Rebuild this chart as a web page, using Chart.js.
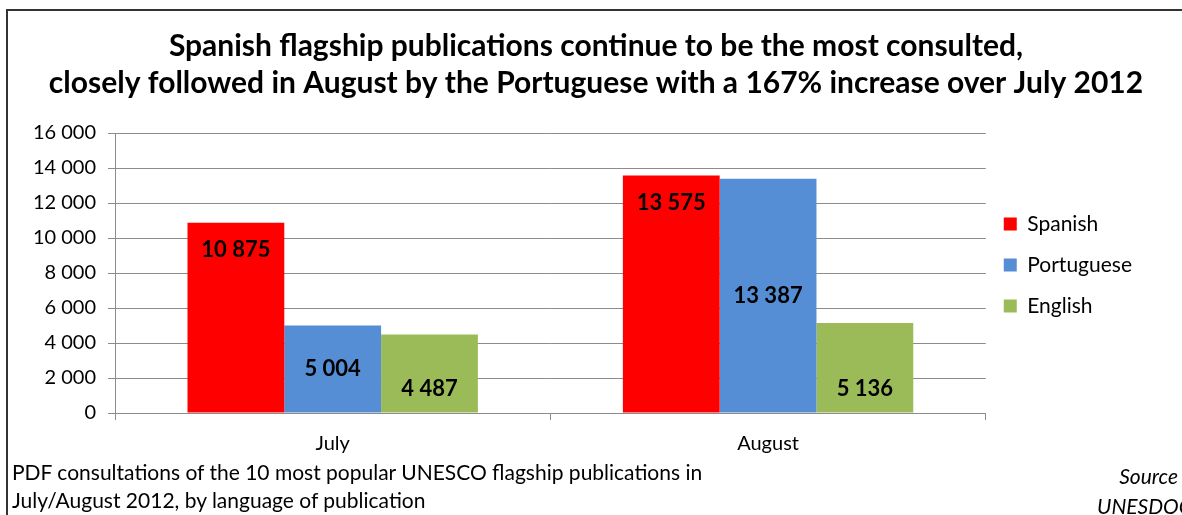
<!DOCTYPE html>
<html lang="en">
<head>
    <meta charset="UTF-8">
    <title>UNESCO flagship publications</title>
    <script src="https://cdn.jsdelivr.net/npm/chart.js"></script>
    <style>
        html, body { margin: 0; padding: 0; background: #fff; overflow: hidden; }
        .pagina { position: relative; width: 1182px; height: 515px; overflow: hidden; font-family: Lato, sans-serif; }
        .moldura { position: absolute; left: 6px; top: 9px; width: 1200px; height: 520px; border-top: 2px solid #333; border-left: 2px solid #333; }
        canvas { position: absolute; left: 0; top: 0; }
        .rodape { position: absolute; left: 12px; top: 458px; font-size: 21px; line-height: 27.5px; color: #000; white-space: nowrap; }
        .fonte { position: absolute; font-size: 21px; font-style: italic; color: #000; white-space: nowrap; line-height: 24px; }
    </style>
</head>
<body>
    <div class="pagina">
        <canvas id="myChart" width="1182" height="515"></canvas>
        <div class="moldura"></div>
        <div class="rodape">PDF consultations of the 10 most popular UNESCO flagship publications in<br>July/August 2012, by language of publication</div>
        <div class="fonte" style="right: 4px; top: 464px;">Source</div>
        <div class="fonte" style="left: 1097px; top: 494px;">UNESDOC</div>
    </div>
<script>
    // dados
    const meses = ['July', 'August']
    const espanhol = [10875, 13575]
    const portugues = [5004, 13387]
    const ingles = [4487, 5136]
    const ticksY = [0, 2000, 4000, 6000, 8000, 10000, 12000, 14000, 16000]

    // onde o rotulo fica dentro de cada barra (por serie)
    const ancoraRotulo = ['end', 'center', 'start']

    function formatarNumero(v){
        return String(v).replace(/\B(?=(\d{3})+(?!\d))/g, ' ')
    }

    const rotulosBarras = {
        id: 'rotulosBarras',
        afterDatasetsDraw(chart){
            const ctx = chart.ctx
            ctx.save()
            ctx.font = 'bold 22px Lato'
            ctx.fillStyle = '#000'
            ctx.textAlign = 'center'
            ctx.textBaseline = 'middle'
            chart.data.datasets.forEach((ds, i) => {
                chart.getDatasetMeta(i).data.forEach((barra, j) => {
                    var y
                    if (ancoraRotulo[i] == 'end') y = barra.y + 27
                    else if (ancoraRotulo[i] == 'center') y = (barra.y + barra.base) / 2
                    else y = barra.base - 24
                    ctx.fillText(formatarNumero(ds.data[j]), barra.x, y)
                })
            })
            ctx.restore()
        }
    }

    // legenda um pouco acima do centro e titulo centrado na pagina toda
    const ajusteLayout = {
        id: 'ajusteLayout',
        afterLayout(chart){
            const leg = chart.legend
            if (leg) {
                leg.top = chart.chartArea.top - 8
                leg.bottom = chart.chartArea.bottom - 8
                leg.height = leg.bottom - leg.top
                leg.left -= 2
                leg.right -= 2
            }
            const tit = chart.titleBlock
            if (tit) {
                tit.left = 10
                tit.right = chart.width
                tit.width = tit.right - tit.left
            }
        }
    }

    function desenhar(){
        const ctx = document.getElementById('myChart')
        new Chart(ctx, {
            type: 'bar',
            data: {
                labels: meses,
                datasets: [
                    { label: 'Spanish', data: espanhol, backgroundColor: '#ff0000' },
                    { label: 'Portuguese', data: portugues, backgroundColor: '#558ed5' },
                    { label: 'English', data: ingles, backgroundColor: '#9bbb59' }
                ]
            },
            options: {
                responsive: false,
                animation: false,
                devicePixelRatio: 1,
                categoryPercentage: 0.667,
                barPercentage: 1.0,
                layout: { padding: { left: 0, right: 38, top: 0, bottom: 47 } },
                plugins: {
                    title: {
                        display: true,
                        text: ['Spanish flagship publications continue to be the most consulted,',
                               'closely followed in August by the Portuguese with a 167% increase over July 2012'],
                        color: '#000',
                        font: { family: 'Lato', size: 30, weight: 'bold', lineHeight: '37px' },
                        padding: { top: 28, bottom: 31 }
                    },
                    legend: {
                        position: 'right',
                        labels: {
                            color: '#000',
                            font: { family: 'Lato', size: 21 },
                            boxWidth: 13,
                            boxHeight: 13,
                            padding: 20
                        }
                    },
                    tooltip: { enabled: false }
                },
                scales: {
                    x: {
                        grid: { display: true, drawOnChartArea: false, drawTicks: true, tickLength: 7, color: '#8c8c8c', offset: true },
                        border: { display: true, color: '#8c8c8c' },
                        ticks: { color: '#000', font: { family: 'Lato', size: 20 }, padding: 12 }
                    },
                    y: {
                        min: 0,
                        max: 16000,
                        afterBuildTicks(scale){
                            scale.ticks = ticksY.map(v => ({ value: v }))
                        },
                        afterFit(scale){ scale.width = 115 },
                        grid: { color: '#8c8c8c', tickLength: 7 },
                        border: { display: true, color: '#8c8c8c' },
                        ticks: {
                            color: '#000',
                            font: { family: 'Lato', size: 20 },
                            padding: 12,
                            callback: (v) => formatarNumero(v)
                        }
                    }
                }
            },
            plugins: [rotulosBarras, ajusteLayout]
        })
    }

    Promise.all([
        document.fonts.load('20px Lato'),
        document.fonts.load('bold 20px Lato'),
        document.fonts.load('italic 20px Lato')
    ]).then(desenhar, desenhar)
</script>
</body>
</html>
